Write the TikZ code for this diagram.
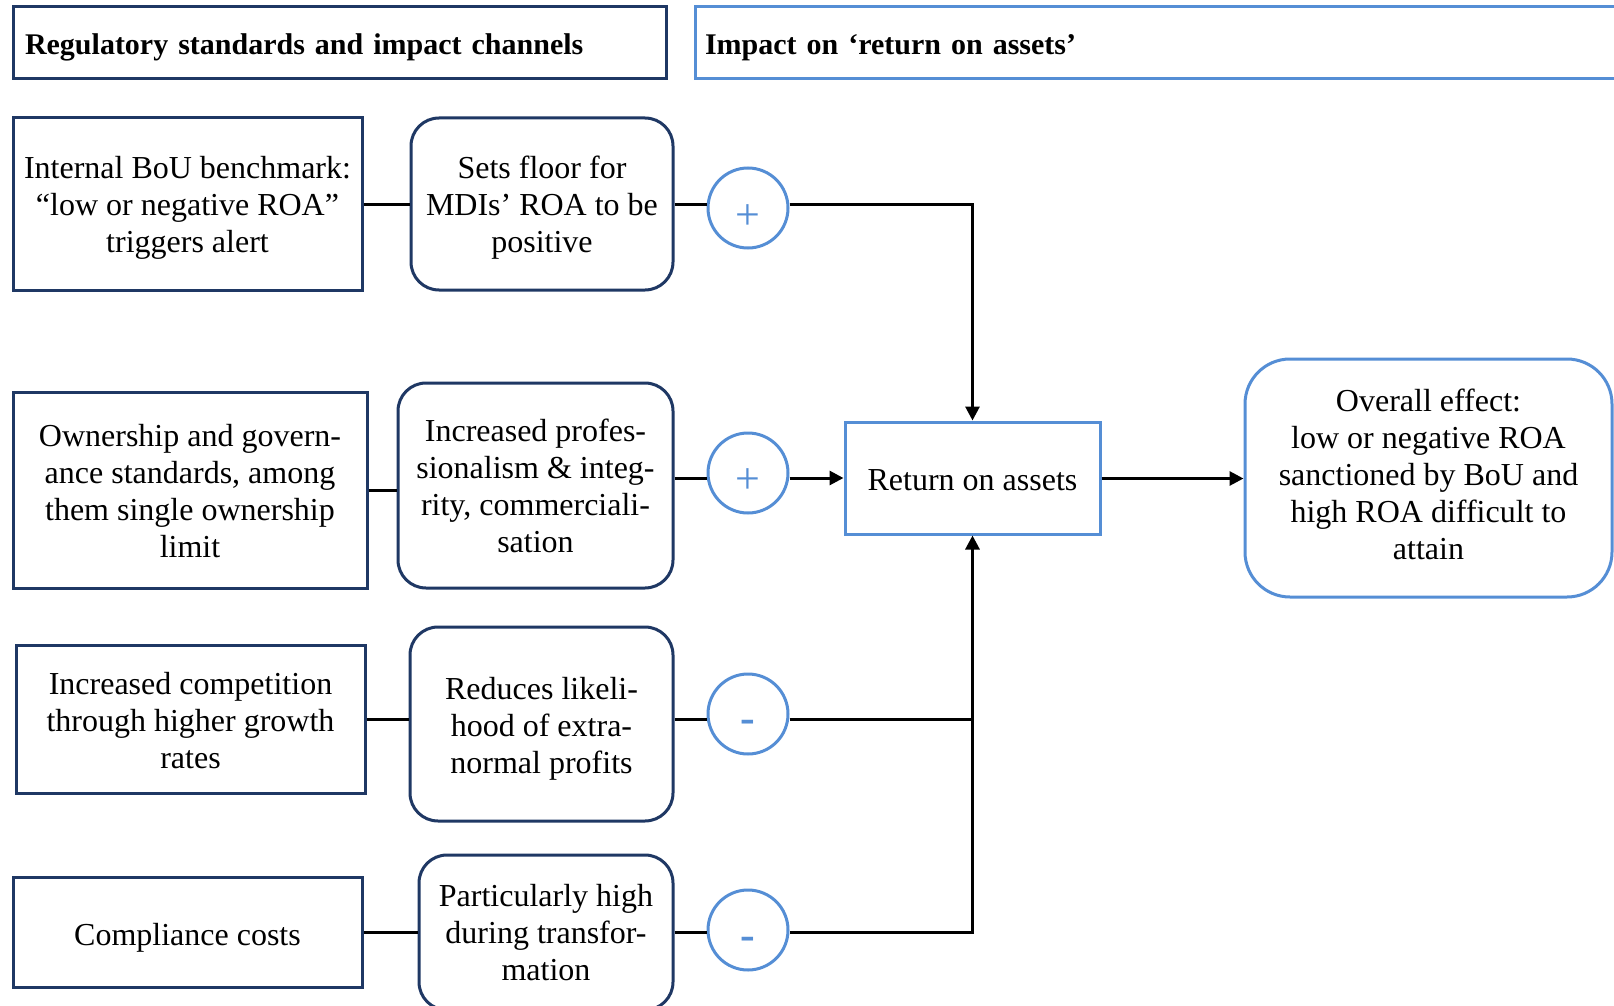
\documentclass[tikz,border=0pt]{standalone}
\usepackage{fontspec}
\setmainfont{Liberation Serif}
\usetikzlibrary{arrows.meta}
\definecolor{navy}{RGB}{31,56,100}
\definecolor{lblue}{RGB}{85,142,213}
\newcommand{\dn}[1]{\rule{0pt}{#1}}
\begin{document}
\begin{tikzpicture}[x=1pt,y=-1pt,
  txt/.style={font=\fontsize{32}{37}\selectfont, align=center, inner sep=0pt},
  navybox/.style={txt, draw=navy, line width=3pt, fill=white},
  navyround/.style={navybox, rounded corners=28pt},
  bluebox/.style={txt, draw=lblue, line width=3pt, fill=white},
  up/.style={execute at end node={\rule[-#1]{0pt}{#1}}},
  header/.style={font=\fontsize{30}{35}\selectfont\bfseries, align=left, inner ysep=0pt, minimum height=72pt, line width=3pt, fill=white},
  sign/.style={circle, draw=lblue, line width=3pt, minimum size=80pt, inner sep=0pt, fill=white},
  signtxt/.style={text=lblue, font=\fontsize{44}{44}\selectfont, inner sep=0pt},
  conn/.style={line width=3pt, black},
  arr/.style={conn, -{Triangle[length=14pt,width=14pt]}}]
\clip (0,0) rectangle (1614,1006);
\fill[white] (0,0) rectangle (1614,1006);

% headers
\node[header, draw=navy, text width=629pt, inner xsep=12pt] (h1) at (339.5,43) {\dn{29pt}Regulatory standards and impact channels};
\node[header, draw=lblue, text width=925pt, inner xsep=10pt] (h2) at (1167.5,43) {\dn{29pt}Impact on ‘return on assets’};

% left column
\node[navybox, minimum width=349pt, minimum height=172pt] (a1) at (187.5,204) {\dn{30pt}Internal BoU benchmark:\\“low or negative ROA”\\triggers alert};
\node[navybox, minimum width=354pt, minimum height=196pt] (a2) at (190,490) {\dn{24pt}Ownership and govern-\\ance standards, among\\them single ownership\\limit};
\node[navybox, minimum width=349pt, minimum height=148pt] (a3) at (190.5,719) {\dn{25pt}Increased competition\\through higher growth\\rates};
\node[navybox, minimum width=349pt, minimum height=110pt] (a4) at (187.5,932) {\dn{34pt}Compliance costs};

% channel boxes
\node[navyround, minimum width=262pt, minimum height=172pt] (b1) at (542,204) {\dn{30pt}Sets floor for\\MDIs’ ROA to be\\positive};
\node[navyround, minimum width=275pt, minimum height=205pt] (b2) at (535.5,485.5) {Increased profes-\\sionalism \& integ-\\rity, commerciali-\\sation};
\node[navyround, minimum width=263pt, minimum height=194pt] (b3) at (541.5,724) {\dn{32pt}Reduces likeli-\\hood of extra-\\normal profits};
\node[navyround, minimum width=254pt, minimum height=155pt] (b4) at (546,932.5) {Particularly high\\during transfor-\\mation};

% signs
\node[sign, label={[signtxt, yshift=-9pt]center:+}] (c1) at (748,208) {};
\node[sign, label={[signtxt, yshift=-8pt]center:+}] (c2) at (748,473) {};
\node[sign, label={[signtxt, yshift=-12.5pt]center:\textbf{-}}] (c3) at (748,714) {};
\node[sign, label={[signtxt, yshift=-13pt]center:\textbf{-}}] (c4) at (748,930) {};

% right side
\node[bluebox, minimum width=255pt, minimum height=112pt] (roa) at (972.5,478) {\dn{26pt}Return on assets};
\node[bluebox, up=8pt, rounded corners=45pt, minimum width=367pt, minimum height=238pt] (ov) at (1428.5,478) {Overall effect:\\low or negative ROA\\sanctioned by BoU and\\high ROA difficult to\\attain};

% connectors left to channel
\draw[conn] (a1.east |- 0,204.5) -- (b1.west |- 0,204.5);
\draw[conn] (a2.east) -- (a2.east -| b2.west);
\draw[conn] (a3.east |- 0,719) -- (b3.west |- 0,719);
\draw[conn] (a4.east |- 0,932) -- (b4.west |- 0,932);

% channel to signs
\draw[conn] (b1.east |- 0,204.5) -- (c1.west |- 0,204.5);
\draw[conn] (b2.east |- 0,478) -- (c2.west |- 0,478);
\draw[conn] (b3.east |- 0,719) -- (c3.west |- 0,719);
\draw[conn] (b4.east |- 0,932) -- (c4.west |- 0,932);

% signs to ROA
\draw[arr] (c1.east |- 0,204.5) -| (roa.north);
\draw[arr] (c2.east |- 0,478) -- (roa.west |- 0,478);
\draw[conn] (c3.east |- 0,719) -- (roa.south |- 0,719);
\draw[arr] (c4.east |- 0,932) -| (roa.south);

% ROA to overall
\draw[arr] (roa.east |- 0,478.5) -- (ov.west |- 0,478.5);
\end{tikzpicture}
\end{document}
